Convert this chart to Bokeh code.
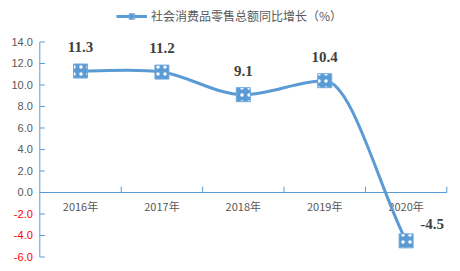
from bokeh.plotting import figure
from bokeh.models import Range1d, ColumnDataSource, Legend, LegendItem
from bokeh.core.properties import value
from bokeh.embed import file_html
from bokeh.resources import INLINE

# ---- data ----
years = ["2016年", "2017年", "2018年", "2019年", "2020年"]
growth = [11.3, 11.2, 9.1, 10.4, -4.5]
y_ticks = [-6, -4, -2, 0, 2, 4, 6, 8, 10, 12, 14]
series_name = "社会消费品零售总额同比增长（%）"

BLUE = "#5B9BD5"
GRAY = "#595959"

p = figure(width=460, height=271, output_backend="svg", toolbar_location=None,
           x_range=Range1d(-0.983, 4.668), y_range=Range1d(-7.349, 17.86),
           min_border=0, min_border_left=0, min_border_right=0,
           min_border_top=0, min_border_bottom=0)
p.axis.visible = False
p.grid.visible = False
p.outline_line_color = None
p.background_fill_color = "white"

xs = list(range(len(years)))
n = len(xs)
x_lo, x_hi = -0.5, n - 0.5

# y axis line and inside ticks
p.segment(x0=[x_lo], y0=[y_ticks[0]], x1=[x_lo], y1=[y_ticks[-1]], line_color=BLUE, line_width=1)
p.segment(x0=[x_lo] * len(y_ticks), y0=y_ticks, x1=[x_lo + 0.062] * len(y_ticks), y1=y_ticks,
          line_color=BLUE, line_width=1)
# x axis line at zero and inside ticks
p.segment(x0=[x_lo], y0=[0], x1=[x_hi], y1=[0], line_color=BLUE, line_width=1)
bounds = [i + 0.5 for i in xs]
p.segment(x0=bounds, y0=[0] * n, x1=bounds, y1=[0.55] * n, line_color=BLUE, line_width=1)

# y tick labels
ylab = ColumnDataSource(dict(
    x=[x_lo] * len(y_ticks), y=y_ticks,
    t=["%.1f" % v for v in y_ticks],
    c=["#FF0000" if v < 0 else GRAY for v in y_ticks]))
p.text(x="x", y="y", text="t", source=ylab, text_color="c", text_align="right",
       text_baseline="middle", x_offset=-7, text_font=value("Liberation Sans"),
       text_font_size="11px")

# category labels
p.text(x=xs, y=[0] * n, text=years, text_align="center", text_baseline="middle",
       y_offset=14, text_color=GRAY, text_font=value("Noto Sans CJK SC"), text_font_size="11px")

# smoothed line through points (cubic Bezier, flat tangents at local extremes)
tang = []
for i in range(n):
    if i == 0:
        m = growth[1] - growth[0]
    elif i == n - 1:
        m = growth[-1] - growth[-2]
    else:
        a, b, c = growth[i - 1], growth[i], growth[i + 1]
        m = 0.0 if (b - a) * (c - b) <= 0 else (c - a) / 2.0
    tang.append(m)
x0s, y0s, x1s, y1s, cx0s, cy0s, cx1s, cy1s = [], [], [], [], [], [], [], []
for i in range(n - 1):
    x0s.append(xs[i]); y0s.append(growth[i])
    x1s.append(xs[i + 1]); y1s.append(growth[i + 1])
    cx0s.append(xs[i] + 1 / 3.0); cy0s.append(growth[i] + tang[i] / 3.0)
    cx1s.append(xs[i + 1] - 1 / 3.0); cy1s.append(growth[i + 1] - tang[i + 1] / 3.0)
bz = p.bezier(x0=x0s, y0=y0s, x1=x1s, y1=y1s, cx0=cx0s, cy0=cy0s, cx1=cx1s, cy1=cy1s,
              line_color=BLUE, line_width=3)

marker_style = dict(marker="square", size=14, fill_color=BLUE, line_color="#6FA8DC",
                    line_width=1, hatch_pattern="dot", hatch_color="white",
                    hatch_scale=7, hatch_weight=0.5)
sc = p.scatter(x=xs, y=growth, **marker_style)

# data labels
xo = [0, 0, 0, 0, 26]
yo = [-24, -24, -24, -24, -17]
p.text(x=xs, y=growth, text=["%.1f" % v for v in growth], x_offset=xo, y_offset=yo,
       text_align="center", text_baseline="middle", text_color="#404040",
       text_font=value("Liberation Serif"), text_font_style="bold", text_font_size="15px")

legend = Legend(items=[LegendItem(label=series_name, renderers=[bz, sc])],
                location=(116, 247), orientation="horizontal",
                glyph_width=31, glyph_height=14, label_height=14, label_standoff=4,
                padding=0, margin=0, spacing=0,
                background_fill_alpha=0, border_line_color=None,
                label_text_font="Noto Sans CJK SC", label_text_font_size="12px",
                label_text_color=GRAY)
p.add_layout(legend, "center")

open("out.html", "w").write(file_html(p, INLINE))
